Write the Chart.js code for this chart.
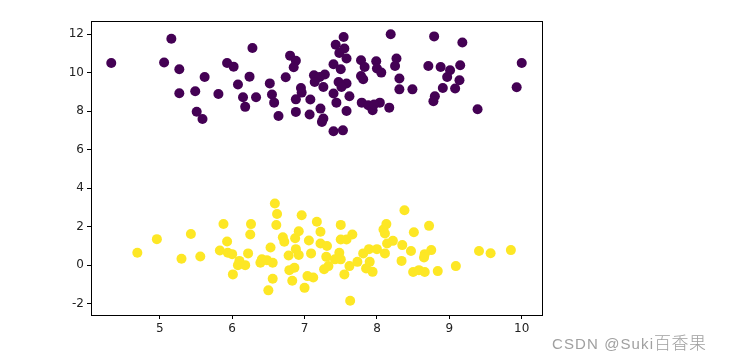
<!DOCTYPE html>
<html lang="en">
<head>
    <meta charset="UTF-8">
    <title>Blobs scatter</title>
    <script src="https://cdn.jsdelivr.net/npm/chart.js"></script>
    <style>
        html, body { margin: 0; padding: 0; background: #fff; }
        .wrap { position: relative; width: 730px; height: 359px; }
        .mark {
            position: absolute;
            left: 552px;
            top: 329px;
            font: 15px "Liberation Sans", sans-serif;
            letter-spacing: 1.1px;
            color: #a0a0a0;
            white-space: nowrap;
        }
        .mark span { font: 300 17px "Noto Sans CJK SC", sans-serif; letter-spacing: 0.5px; }
    </style>
</head>
<body>
<div class="wrap">
    <canvas id="scatter" width="730" height="359"></canvas>
    <div class="mark">CSDN @Suki<span>百香果</span></div>
</div>
<script>
    // cluster 0 (purple)
    const purpleX = [4.33, 5.16, 5.06, 5.27, 5.62, 5.27, 5.49, 5.51, 5.59, 5.81, 5.93, 6.02, 6.28, 6.08, 6.24, 6.15, 6.18, 6.33,
        6.52, 6.55, 6.58, 6.64, 6.74, 6.80, 6.88, 6.85, 6.95, 6.96, 6.88, 6.88, 7.08, 7.07,
        7.54, 7.43, 7.55, 7.48, 7.58, 7.40, 7.50, 7.13, 7.28, 7.21, 7.14, 7.26, 7.47, 7.58, 7.51, 7.40, 7.62, 7.44,
        7.22, 7.26, 7.24, 7.58, 7.40, 7.53, 8.19, 8.79, 9.18, 10.00, 9.93, 9.39, 7.78, 7.83, 7.99, 8.00, 8.06, 8.27,
        8.25, 7.78, 7.81, 8.31, 8.31, 8.49, 7.79, 7.88, 7.94, 8.04, 8.17, 7.96, 8.71, 8.88, 9.01, 9.15, 8.97, 9.14,
        8.91, 9.08, 8.80, 8.78];
    const purpleY = [10.50, 11.76, 10.52, 10.17, 9.77, 8.93, 9.03, 7.97, 7.59, 8.89, 10.50, 10.31, 11.28, 9.38, 9.79, 8.72, 8.22, 8.72,
        9.44, 8.86, 8.44, 7.75, 9.76, 10.88, 10.62, 10.28, 9.20, 8.96, 8.61, 7.96, 8.60, 7.82,
        11.85, 11.45, 11.25, 11.02, 10.73, 10.43, 10.17, 9.86, 9.90, 9.77, 9.51, 9.25, 9.51, 9.43, 9.25, 8.91, 8.77, 8.44,
        8.13, 7.61, 7.44, 8.01, 6.95, 7.00, 11.99, 11.88, 11.56, 10.50, 9.24, 8.10, 10.64, 10.29, 10.59, 10.21, 10.00, 10.73,
        10.34, 9.82, 9.65, 9.69, 9.13, 9.13, 8.44, 8.30, 8.04, 8.44, 8.18, 8.34, 10.34, 10.29, 10.12, 10.38, 9.77, 9.60,
        9.20, 9.17, 8.77, 8.51];

    // cluster 1 (yellow)
    const yellowX = [4.69, 4.96, 5.30, 5.43, 5.56, 5.88, 5.93, 5.83, 5.94, 6.00, 6.10, 6.08, 6.18, 6.01, 6.26, 6.25, 6.22, 6.39,
        6.41, 6.48, 6.56, 6.53, 6.59, 6.62, 6.61, 6.56, 6.50, 6.70, 6.72, 6.78, 6.79, 6.86, 6.83, 6.87, 6.92, 6.88,
        6.92, 6.96, 7.06, 7.09, 7.04, 7.00, 7.17, 7.22, 7.22, 7.31, 7.30, 7.33, 7.27, 7.12, 7.50, 7.50, 7.58, 7.66,
        7.48, 7.42, 7.50, 7.62, 7.73, 7.55, 7.63, 7.81, 7.89, 7.85, 7.90, 7.94, 8.00, 8.11, 8.09, 8.13, 8.11, 8.14,
        8.22, 8.35, 8.38, 8.47, 8.34, 8.51, 8.72, 8.75, 8.66, 8.65, 8.50, 8.58, 8.66, 8.84, 9.09, 9.41, 9.57, 9.85];
    const yellowY = [0.64, 1.35, 0.33, 1.62, 0.45, 2.14, 1.23, 0.76, 0.64, 0.57, 0.22, 0.00, 0.00, -0.48, 2.13, 1.59, 0.61, 0.12,
        0.30, 0.26, 0.12, 0.92, 3.20, 2.66, 2.08, -0.71, -1.31, 1.45, 1.21, 0.50, -0.26, -0.14, -0.81, 1.40, 1.76, 0.83,
        0.53, 2.59, 1.28, 0.61, -0.57, -1.18, 2.25, 1.73, 1.12, 0.99, 0.43, -0.05, -0.21, -0.64, 2.09, 1.33, 1.33, 1.59,
        0.64, 0.30, 0.30, -0.05, 0.17, -0.48, -1.85, 0.61, 0.83, -0.17, 0.17, -0.35, 0.83, 0.61, 1.85, 2.13, 1.64, 1.12,
        1.26, 1.04, 2.85, 0.73, 0.22, 1.71, 2.04, 0.78, 0.57, 0.40, -0.36, -0.26, -0.36, -0.31, -0.05, 0.73, 0.62, 0.78];

    const xTicks = [5, 6, 7, 8, 9, 10];
    const yTicks = [-2, 0, 2, 4, 6, 8, 10, 12];

    function toPoints(xs, ys) {
        return xs.map((x, i) => ({ x: x, y: ys[i] }));
    }

    // full box around the plot, like matplotlib spines
    const frame = {
        id: 'frame',
        afterDraw(chart) {
            const a = chart.chartArea, ctx = chart.ctx;
            ctx.save();
            ctx.strokeStyle = '#000';
            ctx.lineWidth = 1;
            ctx.strokeRect(Math.round(a.left) + 0.5, Math.round(a.top) + 0.5,
                Math.round(a.right - a.left), Math.round(a.bottom - a.top));
            ctx.restore();
        }
    };

    const tickFont = { family: 'DejaVu Sans', size: 12 };

    new Chart(document.getElementById('scatter'), {
        type: 'scatter',
        data: {
            datasets: [
                { data: toPoints(purpleX, purpleY), backgroundColor: '#440154', borderWidth: 0, pointRadius: 5, pointHoverRadius: 5 },
                { data: toPoints(yellowX, yellowY), backgroundColor: '#fde725', borderWidth: 0, pointRadius: 5, pointHoverRadius: 5 }
            ]
        },
        options: {
            responsive: false,
            animation: false,
            layout: { padding: { top: 21, right: 188, left: 0, bottom: 0 } },
            plugins: { legend: { display: false }, tooltip: { enabled: false } },
            scales: {
                x: {
                    type: 'linear',
                    min: 4.05,
                    max: 10.28,
                    afterBuildTicks: s => { s.ticks = xTicks.map(v => ({ value: v })); },
                    afterFit: s => { s.height = 44; },
                    grid: { drawOnChartArea: false, tickLength: 4, color: '#000' },
                    border: { display: false },
                    ticks: { font: tickFont, color: '#222', padding: 3, maxRotation: 0 }
                },
                y: {
                    type: 'linear',
                    min: -2.59,
                    max: 12.68,
                    afterBuildTicks: s => { s.ticks = yTicks.map(v => ({ value: v })); },
                    afterFit: s => { s.width = 91; },
                    grid: { drawOnChartArea: false, tickLength: 4, color: '#000' },
                    border: { display: false },
                    ticks: { font: tickFont, color: '#222', padding: 3 }
                }
            }
        },
        plugins: [frame]
    });
</script>
</body>
</html>
